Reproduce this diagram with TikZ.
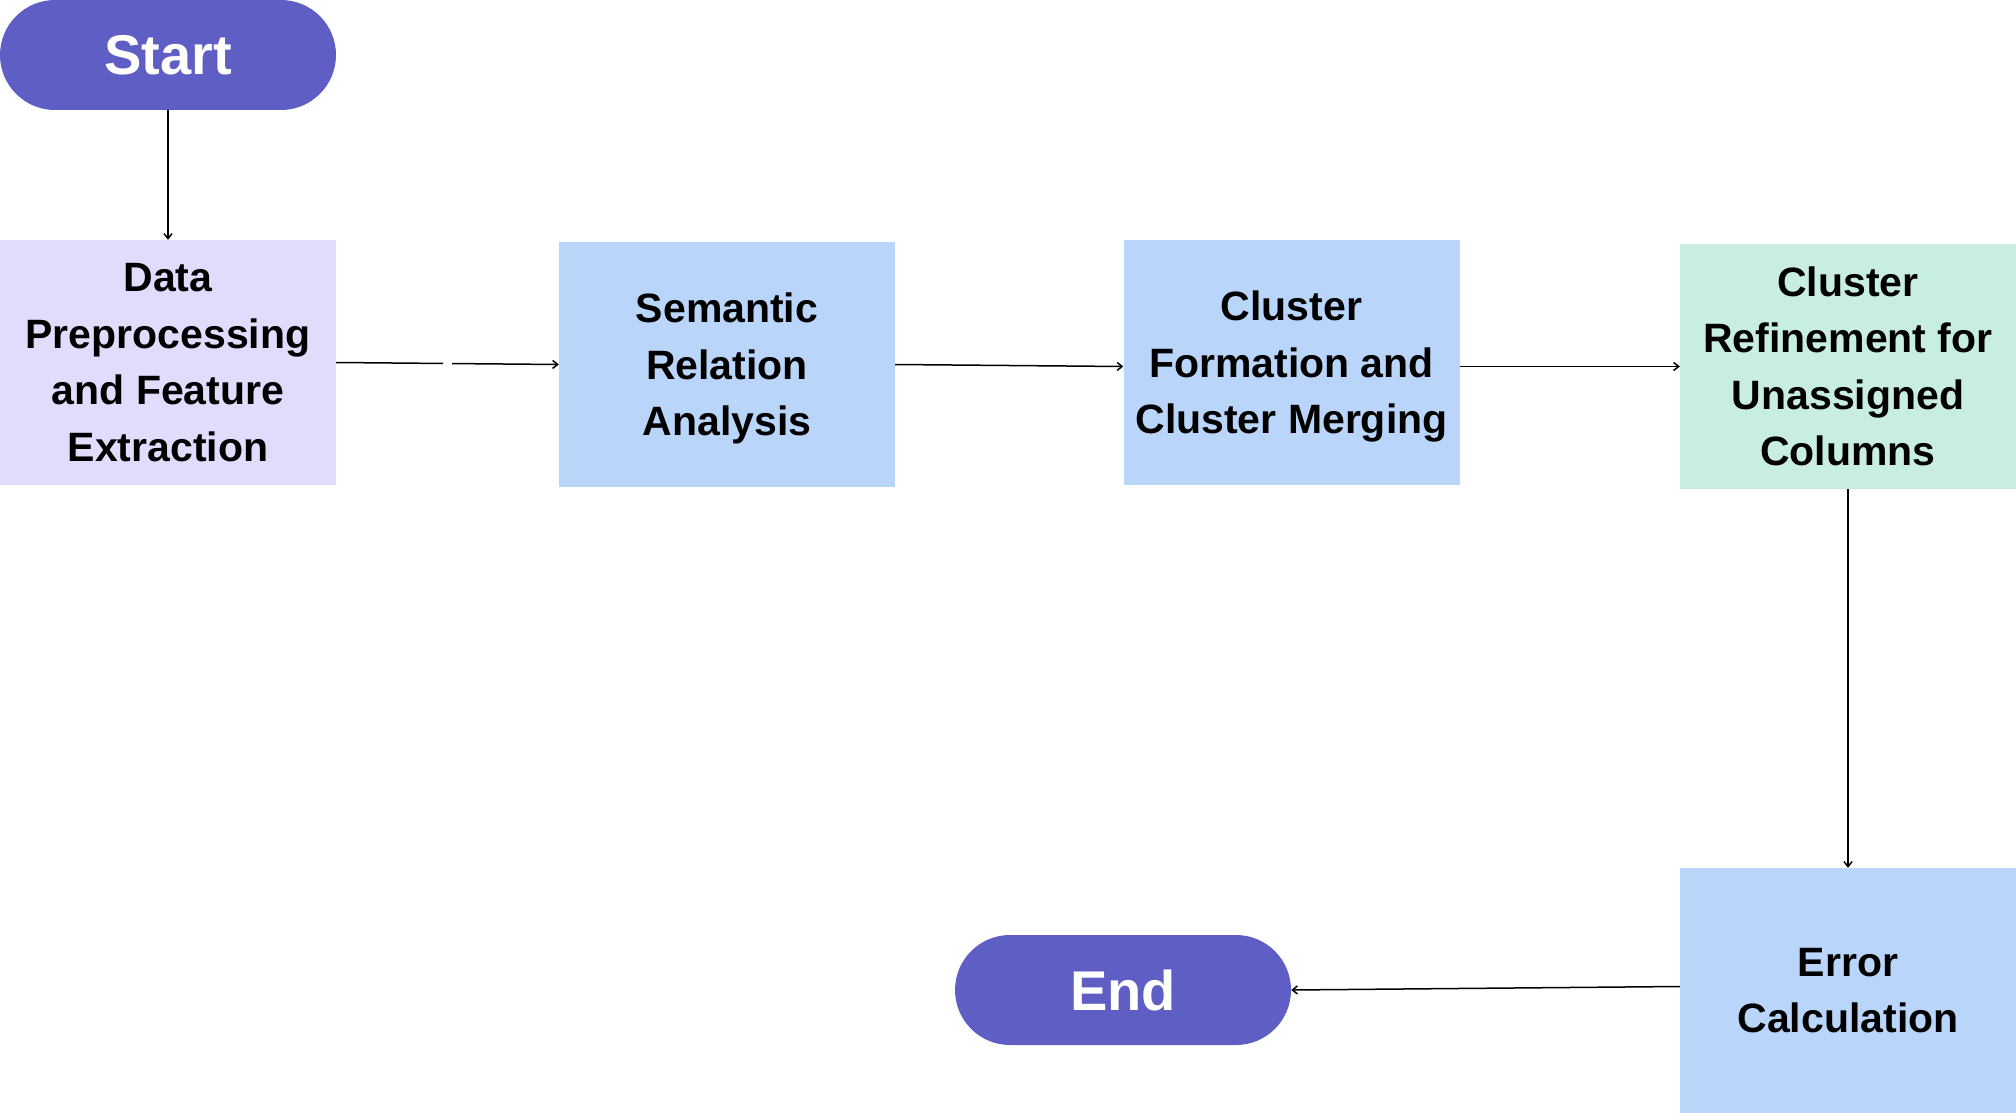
\documentclass[tikz,border=0pt]{standalone}
\usepackage{fontspec}
\setmainfont{Liberation Sans}
\usetikzlibrary{arrows.meta,calc}
\definecolor{pillc}{HTML}{5F5EC5}
\definecolor{lavc}{HTML}{E0DCFC}
\definecolor{bluec}{HTML}{B9D6FA}
\definecolor{mintc}{HTML}{C8EDE2}
\newcommand{\lowerfirst}{\rule{0pt}{38pt}}
\tikzset{
  pill/.style={fill=pillc, text=white, minimum width=336pt, minimum height=110pt,
    rounded corners=55pt, inner sep=0pt, font=\fontsize{56}{60}\selectfont\bfseries},
  procbox/.style={minimum width=336pt, minimum height=245pt, inner sep=0pt,
    align=center, font=\fontsize{41}{56.5}\selectfont\bfseries},
  conn/.style={line width=1.5pt, -{Straight Barb[length=5pt,width=8pt]}}
}
\begin{document}
\begin{tikzpicture}[x=1pt,y=-1pt]
\useasboundingbox (0,0) rectangle (2016,1113);
\node[pill] (start) at (168,55) {Start};
\node[procbox, fill=lavc] (data) at (168,362.5) {Data\\Preprocessing\\and Feature\\Extraction};
\node[procbox, fill=bluec] (sem) at (727,364.5) {\lowerfirst Semantic\\Relation\\Analysis};
\node[procbox, fill=bluec] (cf) at (1291.5,362.5) {\lowerfirst Cluster\\Formation and\\Cluster Merging};
\node[procbox, fill=mintc] (ref) at (1848,366.5) {Cluster\\Refinement for\\Unassigned\\Columns};
\node[procbox, fill=bluec] (err) at (1848,990.5) {Error\\Calculation};
\node[pill] (end) at (1123,990) {End};
\draw[conn] (start) -- (data);
\draw[conn, dash pattern=on 107pt off 9pt on 300pt] (data.east) -- (sem.west);
\draw[conn] (sem.east) -- ($(cf.west)+(0,4)$);
\draw[conn] (cf.east |- ref.west) -- (ref.west);
\draw[conn] (ref) -- (err);
\draw[conn] ($(err.west)+(0,-4)$) -- (end.east);
\end{tikzpicture}
\end{document}
